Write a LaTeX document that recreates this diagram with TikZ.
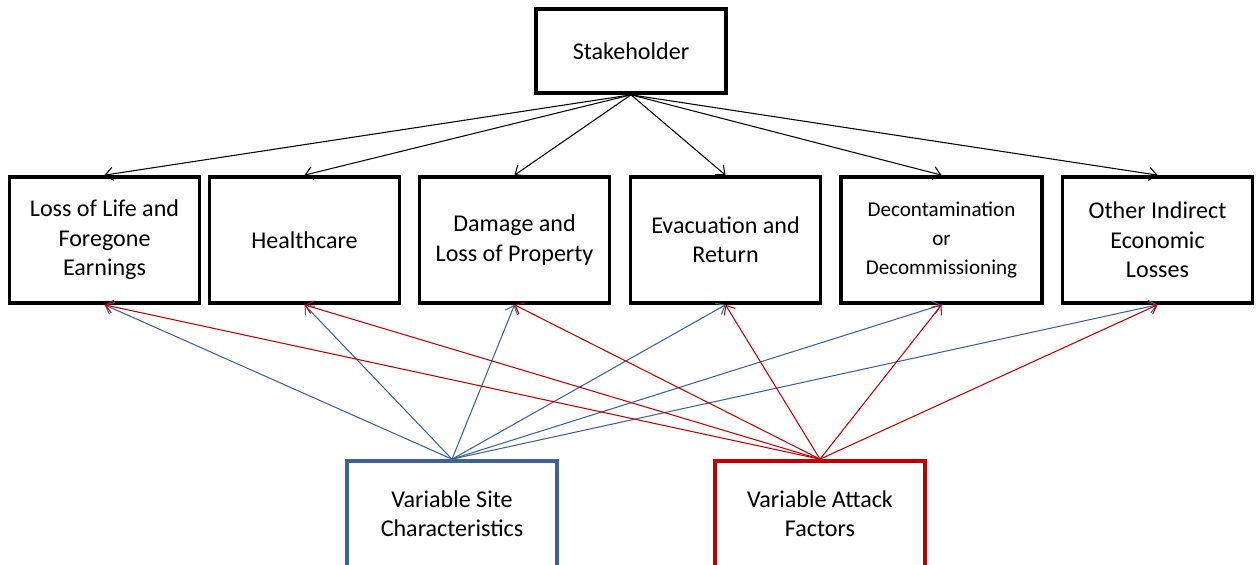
\documentclass[tikz,border=0pt]{standalone}
\usepackage{fontspec}
\setmainfont{Carlito}
\usepackage{tikz}
\usetikzlibrary{arrows.meta}
\definecolor{siteblue}{HTML}{3E6295}
\definecolor{attackred}{HTML}{C00000}
\tikzset{
  box/.style={draw,line width=2.1pt,align=center,minimum width=3.8cm,minimum height=2.52cm,font=\fontsize{13.7}{16.7}\selectfont},
  topbox/.style={box,minimum height=1.68cm},
  basebox/.style={box,minimum width=4.2cm,minimum height=2.12cm},
  link/.style={line width=0.6pt,-{Straight Barb[length=1.5mm,width=2.6mm]}}
}
\begin{document}
\begin{tikzpicture}
	\useasboundingbox (0,0) rectangle (25.14,11.3);
		\path (12.62,10.28) node(s)[topbox] {Stakeholder}
		(2.09,6.5) node(life)[box] {Loss of Life and\\Foregone\\Earnings}
		(6.09,6.5) node(health)[box] {Healthcare}
		(10.29,6.5) node(prop)[box] {Damage and\\Loss of Property}
		(14.51,6.5) node(evac)[box] {Evacuation and\\Return}
		(18.83,6.5) node(decon)[box,minimum width=4.02cm] {{\fontsize{12}{16.7}\selectfont Decontamination}\\{\fontsize{12}{16.7}\selectfont or}\\{\fontsize{12}{16.7}\selectfont Decommissioning}}
		(23.15,6.5) node(other)[box] {Other Indirect\\Economic\\Losses}
		(9.04,1.02) node(site)[basebox,draw=siteblue] {Variable Site\\Characteristics}
		(16.4,1.02) node(att)[basebox,draw=attackred] {Variable Attack\\Factors};
		\draw[link] (s.south)--(life.north);
		\draw[link] (s.south)--(health.north);
		\draw[link] (s.south)--(prop.north);
		\draw[link] (s.south)--(evac.north);
		\draw[link] (s.south)--(decon.north);
		\draw[link] (s.south)--(other.north);
		\draw[link,siteblue] (site.north)--(life.south);
		\draw[link,siteblue] (site.north)--(health.south);
		\draw[link,siteblue] (site.north)--(prop.south);
		\draw[link,siteblue] (site.north)--(evac.south);
		\draw[link,siteblue] (site.north)--(decon.south);
		\draw[link,siteblue] (site.north)--(other.south);
		\draw[link,attackred] (att.north)--(life.south);
		\draw[link,attackred] (att.north)--(health.south);
		\draw[link,attackred] (att.north)--(prop.south);
		\draw[link,attackred] (att.north)--(evac.south);
		\draw[link,attackred] (att.north)--(decon.south);
		\draw[link,attackred] (att.north)--(other.south);
	\end{tikzpicture}
\end{document}
